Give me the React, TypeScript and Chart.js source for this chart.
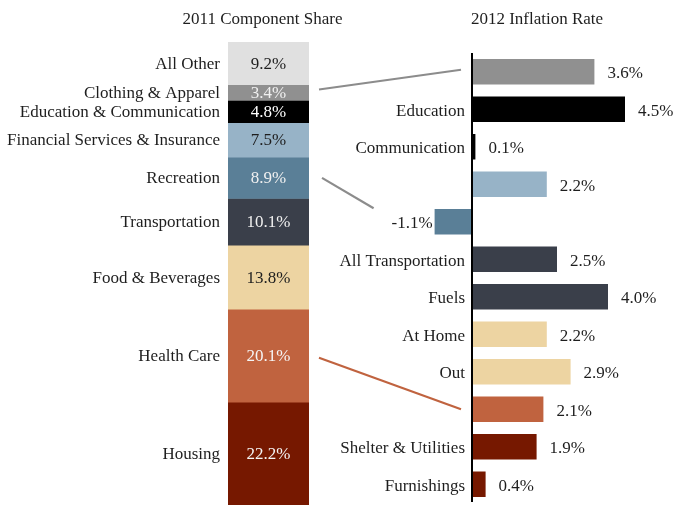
import React, { useEffect, useRef } from 'react';
import { Chart, registerables } from 'chart.js';
Chart.register(...registerables);

// ---- Data ----
const shareTitle = '2011 Component Share';
const rateTitle = '2012 Inflation Rate';

const shareCategories = [
  'All Other',
  'Clothing & Apparel',
  'Education & Communication',
  'Financial Services & Insurance',
  'Recreation',
  'Transportation',
  'Food & Beverages',
  'Health Care',
  'Housing',
];
const shareValues = [9.2, 3.4, 4.8, 7.5, 8.9, 10.1, 13.8, 20.1, 22.2];

const rateCategories = [
  '',
  'Education',
  'Communication',
  '',
  '',
  'All Transportation',
  'Fuels',
  'At Home',
  'Out',
  '',
  'Shelter & Utilities',
  'Furnishings',
];
const rateValues = [3.6, 4.5, 0.1, 2.2, -1.1, 2.5, 4.0, 2.2, 2.9, 2.1, 1.9, 0.4];

// connectors: share segment index -> rate bar index
const connectorFrom = [1, 4, 7];
const connectorTo = [0, 4, 9];

// ---- Styles ----
const shareColors = ['#e0e0e0', '#909090', '#000000', '#97b3c7', '#5a7f97', '#3a3f4a', '#edd4a2', '#c0633f', '#761800'];
const shareTextColors = ['#1e1e1e', '#f0f0f0', '#ffffff', '#1e1e1e', '#f0f0f0', '#f0f0f0', '#1e1e1e', '#f5f5f5', '#f5f5f5'];
const rateColors = ['#909090', '#000000', '#000000', '#97b3c7', '#5a7f97', '#3a3f4a', '#3a3f4a', '#edd4a2', '#edd4a2', '#c0633f', '#761800', '#761800'];
const connectorColors = ['#8c8c8c', '#8c8c8c', '#c0633f'];
const FONT = '17px "Liberation Serif", "Times New Roman", serif';
const TEXT = '#1e1e1e';

const W = 680;
const H = 506;

export default function App() {
  const leftRef = useRef<HTMLCanvasElement>(null);
  const rightRef = useRef<HTMLCanvasElement>(null);

  useEffect(() => {
    if (!leftRef.current || !rightRef.current) return;

    const leftLabelsPlugin = {
      id: 'leftLabels',
      afterDatasetsDraw(chart: any) {
        const ctx = chart.ctx;
        const area = chart.chartArea;
        ctx.save();
        ctx.font = FONT;
        ctx.textBaseline = 'middle';
        chart.data.datasets.forEach((ds: any, i: number) => {
          const el = chart.getDatasetMeta(i).data[0] as any;
          const cy = (el.y + el.base) / 2;
          ctx.fillStyle = TEXT;
          ctx.textAlign = 'right';
          ctx.fillText(shareCategories[i], area.left - 8, cy + 1);
          ctx.fillStyle = shareTextColors[i];
          ctx.textAlign = 'center';
          ctx.fillText(shareValues[i].toFixed(1) + '%', el.x, cy + 1);
        });
        ctx.fillStyle = TEXT;
        ctx.textAlign = 'center';
        ctx.fillText(shareTitle, (area.left + area.right) / 2 - 6, 20);
        ctx.restore();
      },
    };

    const leftChart = new Chart(leftRef.current, {
      type: 'bar',
      data: {
        labels: ['2011'],
        datasets: shareCategories.map((c, i) => ({
          label: c,
          data: [shareValues[i]],
          backgroundColor: shareColors[i],
          borderWidth: 0,
          barPercentage: 1,
          categoryPercentage: 1,
        })),
      },
      options: {
        responsive: false,
        animation: false,
        layout: { padding: { left: 228, right: W - 309, top: 42, bottom: 1 } },
        plugins: { legend: { display: false }, tooltip: { enabled: false }, title: { display: false } },
        scales: {
          x: { stacked: true, display: false },
          y: { stacked: true, display: false, min: 0, max: 100, reverse: true },
        },
      },
      plugins: [leftLabelsPlugin],
    });

    const rightLabelsPlugin = {
      id: 'rightLabels',
      afterDraw(chart: any) {
        const ctx = chart.ctx;
        const area = chart.chartArea;
        const xs = chart.scales.x;
        const ys = chart.scales.y;
        const x0 = xs.getPixelForValue(0);
        ctx.save();
        // axis line
        ctx.strokeStyle = '#000';
        ctx.lineWidth = 2;
        ctx.beginPath();
        ctx.moveTo(x0, area.top);
        ctx.lineTo(x0, area.bottom - 1);
        ctx.stroke();

        ctx.font = FONT;
        ctx.textBaseline = 'middle';
        ctx.fillStyle = TEXT;
        rateValues.forEach((v, i) => {
          const cy = ys.getPixelForValue(i);
          if (rateCategories[i]) {
            ctx.textAlign = 'right';
            ctx.fillText(rateCategories[i], x0 - 7, cy + 2);
          }
          const xe = xs.getPixelForValue(v);
          const txt = v.toFixed(1) + '%';
          if (v >= 0) {
            ctx.textAlign = 'left';
            ctx.fillText(txt, xe + 13, cy + 2);
          } else {
            ctx.textAlign = 'right';
            ctx.fillText(txt, xe - 2, cy + 2);
          }
        });
        ctx.textAlign = 'center';
        ctx.fillText(rateTitle, x0 + 65, 20);

        // connectors
        const la = leftChart.chartArea;
        ctx.lineWidth = 2.2;
        connectorFrom.forEach((si, k) => {
          const el = leftChart.getDatasetMeta(si).data[0] as any;
          const sy = (el.y + el.base) / 2;
          const ri = connectorTo[k];
          const by = ys.getPixelForValue(ri);
          let x1: number, y1: number, x2: number, y2: number;
          if (rateValues[ri] >= 0) {
            x1 = la.right + 10;
            y1 = sy + (k === 0 ? -3 : 2);
            x2 = x0 - 11;
            y2 = by - (k === 0 ? 2 : 0);
          } else {
            x1 = la.right + 13;
            y1 = sy;
            x2 = xs.getPixelForValue(rateValues[ri]) - 61;
            y2 = by - 13.5;
          }
          ctx.strokeStyle = connectorColors[k];
          ctx.beginPath();
          ctx.moveTo(x1, y1);
          ctx.lineTo(x2, y2);
          ctx.stroke();
        });
        ctx.restore();
      },
    };

    const rightChart = new Chart(rightRef.current, {
      type: 'bar',
      data: {
        labels: rateCategories,
        datasets: [
          {
            label: rateTitle,
            data: rateValues,
            backgroundColor: rateColors,
            borderWidth: 0,
            barPercentage: 0.68,
            categoryPercentage: 1,
          },
        ],
      },
      options: {
        indexAxis: 'y',
        responsive: false,
        animation: false,
        layout: { padding: { left: 404, right: 4, top: 53, bottom: 3 } },
        plugins: { legend: { display: false }, tooltip: { enabled: false }, title: { display: false } },
        scales: {
          x: { display: false, min: -2, max: 6 },
          y: { display: false },
        },
      },
      plugins: [rightLabelsPlugin],
    });

    return () => {
      rightChart.destroy();
      leftChart.destroy();
    };
  }, []);

  return (
    <div style={{ position: 'fixed', left: 0, top: 0, width: W, height: H, background: '#fff' }}>
      <canvas ref={leftRef} width={W} height={H} style={{ position: 'absolute', left: 0, top: 0, width: W, height: H }} />
      <canvas ref={rightRef} width={W} height={H} style={{ position: 'absolute', left: 0, top: 0, width: W, height: H }} />
    </div>
  );
}
